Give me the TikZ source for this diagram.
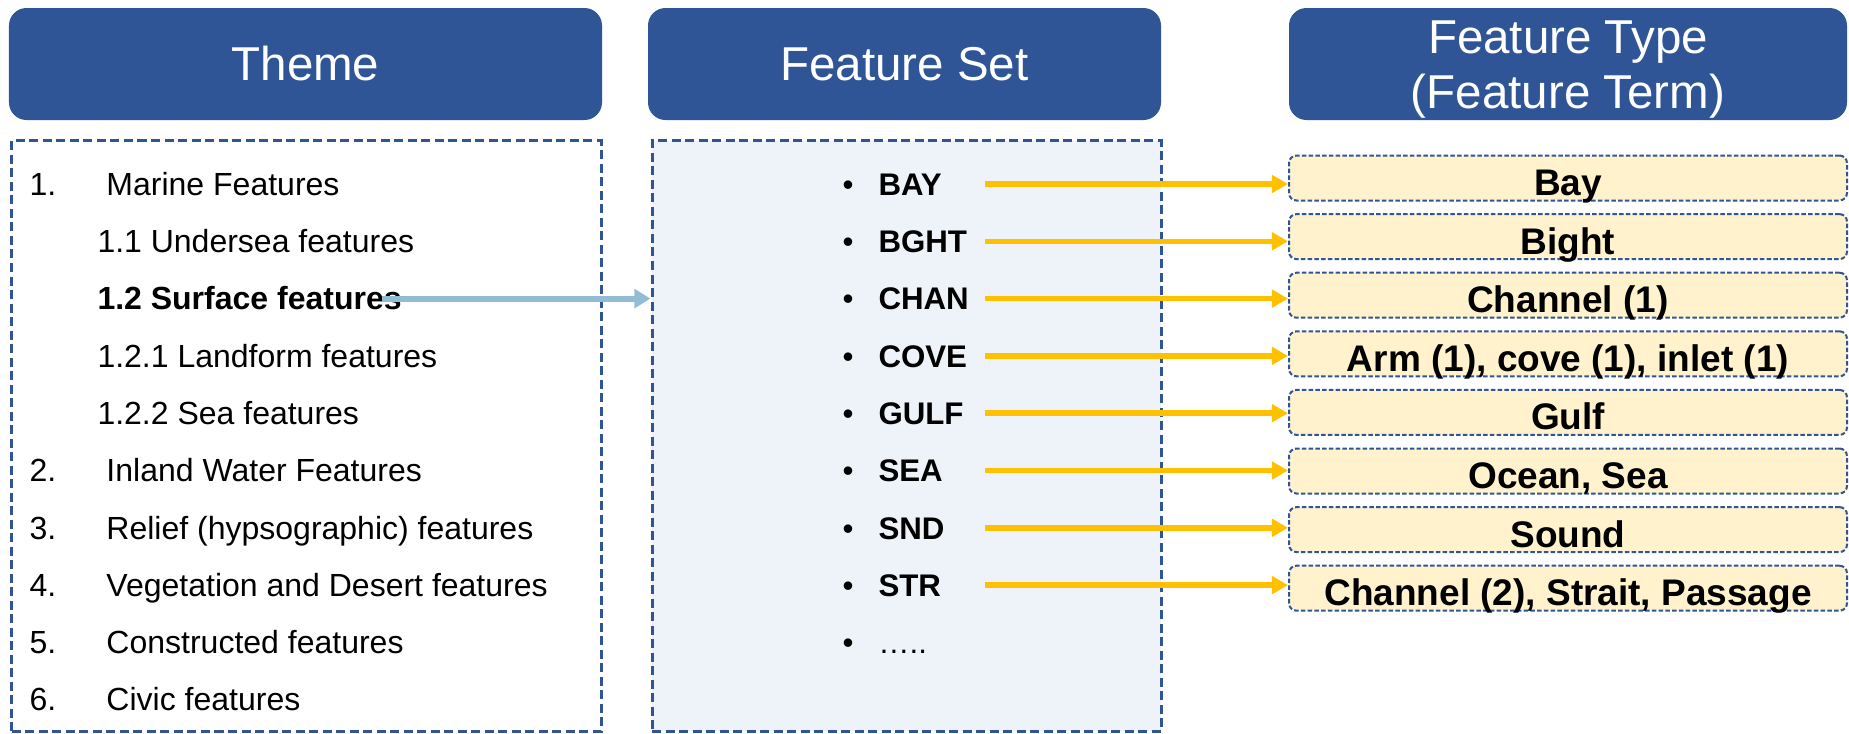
\documentclass[tikz,border=0pt]{standalone}
\usepackage{fontspec}
\setmainfont{Liberation Sans}
\usetikzlibrary{arrows.meta,positioning}
\definecolor{headblue}{HTML}{2F5597}
\definecolor{setfill}{HTML}{EEF3FA}
\definecolor{typefill}{HTML}{FFF2CC}
\definecolor{linkgold}{HTML}{FFC000}
\definecolor{linkblue}{HTML}{92BBD6}

\begin{document}
\begin{tikzpicture}[x=0.4pt, y=-0.4pt,
  head/.style={rectangle, rounded corners=7pt, fill=headblue, text=white, minimum width=#1, minimum height=44.8pt, align=center, inner sep=0pt, font=\fontsize{19}{22}\selectfont},
  listbox/.style={rectangle, draw=headblue, line width=1.2pt, dash pattern=on 3.6pt off 1.8pt, fill=#1, minimum height=236pt, inner sep=0pt},
  item/.style={anchor=west, inner sep=0pt, text height=9pt, text depth=0pt, font=\fontsize{12.8}{15}\selectfont},
  setitem/.style={item, text width=56.8pt, align=left, font=\fontsize{12.5}{15}\selectfont\bfseries},
  typebox/.style={rectangle, rounded corners=3pt, draw=headblue, line width=0.8pt, dash pattern=on 1.8pt off 0.9pt, fill=typefill, minimum width=223.2pt, minimum height=18pt, inner sep=0pt, text height=14pt, text depth=0pt, font=\fontsize{14.8}{17}\selectfont\bfseries},
  goldarr/.style={-{Triangle[length=6.5pt, width=7pt]}, line width=2.2pt, linkgold},
  bluearr/.style={-{Triangle[length=6.5pt, width=7.5pt]}, line width=2.4pt, linkblue}
]
  \useasboundingbox (0,0) rectangle (1849,734);

  % headers
  \node[head=237.2pt] (theme) at (305.5,64) {Theme};
  \node[head=205.2pt] (fset)  at (904.5,64) {Feature Set};
  \node[head=223.2pt] (ftype) at (1568,64)  {\rule{0pt}{17.5pt}Feature Type\\(Feature Term)};

  % list panels
  \node[listbox=white,   minimum width=235.6pt] (themebox) at (306.5,436) {};
  \node[listbox=setfill, minimum width=203.6pt] (setbox)   at (906.5,436) {};

  % themes
  \node[item] (m1)   at (29,184)   {\makebox[30.8pt][l]{1.}Marine Features};
  \node[item] (m11)  at (97,241.3) {1.1 Undersea features};
  \node[item, font=\fontsize{12.8}{15}\selectfont\bfseries] (m12) at (97,298.6) {1.2 Surface features};
  \node[item] (m121) at (97,355.9) {1.2.1 Landform features};
  \node[item] (m122) at (97,413.2) {1.2.2 Sea features};
  \node[item] (m2)   at (29,470.5) {\makebox[30.8pt][l]{2.}Inland Water Features};
  \node[item] (m3)   at (29,527.8) {\makebox[30.8pt][l]{3.}Relief (hypsographic) features};
  \node[item] (m4)   at (29,585.1) {\makebox[30.8pt][l]{4.}Vegetation and Desert features};
  \node[item] (m5)   at (29,642.4) {\makebox[30.8pt][l]{5.}Constructed features};
  \node[item] (m6)   at (29,699.7) {\makebox[30.8pt][l]{6.}Civic features};

  % feature set codes
  \node[setitem] (bayc)  at (842,184)   {\makebox[14.4pt][l]{\mdseries •}BAY};
  \node[setitem] (bghtc) at (842,241.3) {\makebox[14.4pt][l]{\mdseries •}BGHT};
  \node[setitem] (chanc) at (842,298.6) {\makebox[14.4pt][l]{\mdseries •}CHAN};
  \node[setitem] (covec) at (842,355.9) {\makebox[14.4pt][l]{\mdseries •}COVE};
  \node[setitem] (gulfc) at (842,413.2) {\makebox[14.4pt][l]{\mdseries •}GULF};
  \node[setitem] (seac)  at (842,470.5) {\makebox[14.4pt][l]{\mdseries •}SEA};
  \node[setitem] (sndc)  at (842,527.8) {\makebox[14.4pt][l]{\mdseries •}SND};
  \node[setitem] (strc)  at (842,585.1) {\makebox[14.4pt][l]{\mdseries •}STR};
  \node[setitem] (morec) at (842,642.4) {\makebox[14.4pt][l]{\mdseries •}\mdseries …..};

  % feature types
  \node[typebox] (bay)  at (1568,178)   {Bay};
  \node[typebox] (bght) at (1568,236.6) {Bight};
  \node[typebox] (chan) at (1568,295.2) {Channel (1)};
  \node[typebox] (cove) at (1568,353.8) {Arm (1), cove (1), inlet (1)};
  \node[typebox] (gulf) at (1568,412.4) {Gulf};
  \node[typebox] (sea)  at (1568,471)   {Ocean, Sea};
  \node[typebox] (snd)  at (1568,529.6) {Sound};
  \node[typebox] (str)  at (1568,588.2) {Channel (2), Strait, Passage};

  \draw[bluearr] ([xshift=-8pt]m12.east) -- (setbox.west |- m12.east);

  \draw[goldarr] (bayc.east)  -- (bay.west |- bayc.east);
  \draw[goldarr] (bghtc.east) -- (bght.west |- bghtc.east);
  \draw[goldarr] (chanc.east) -- (chan.west |- chanc.east);
  \draw[goldarr] (covec.east) -- (cove.west |- covec.east);
  \draw[goldarr] (gulfc.east) -- (gulf.west |- gulfc.east);
  \draw[goldarr] (seac.east)  -- (sea.west |- seac.east);
  \draw[goldarr] (sndc.east)  -- (snd.west |- sndc.east);
  \draw[goldarr] (strc.east)  -- (str.west |- strc.east);
\end{tikzpicture}
\end{document}
